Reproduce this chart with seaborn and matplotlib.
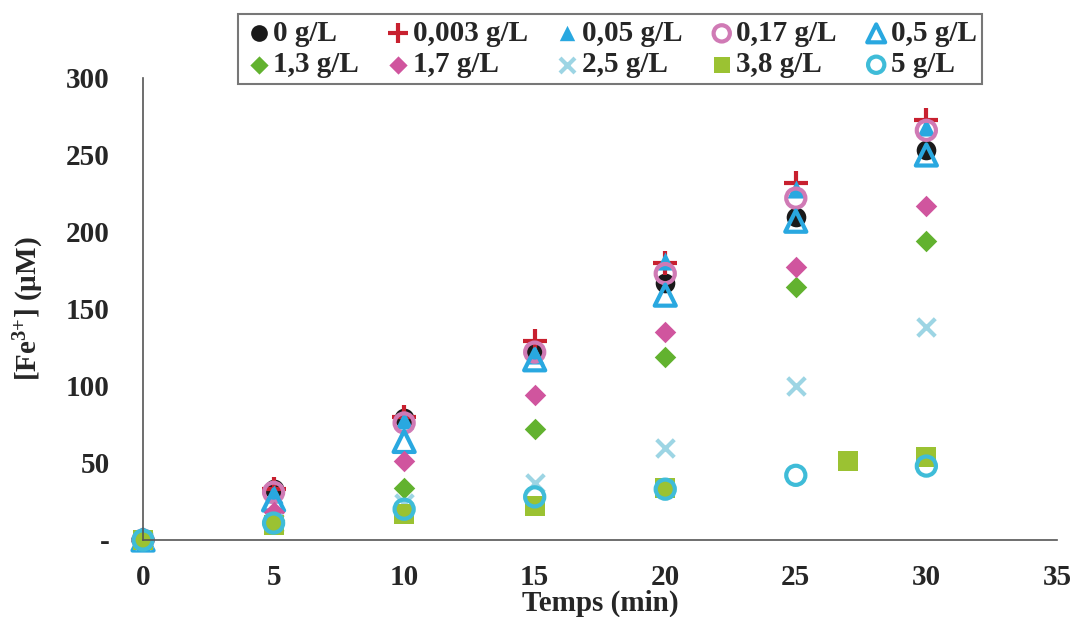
import numpy as np
import pandas as pd
import matplotlib
matplotlib.use('Agg')
import matplotlib.pyplot as plt
import seaborn as sns

# temps (min)
temps = [0, 5, 10, 15, 20, 25, 30]
temps_38 = [0, 5, 10, 15, 20, 27, 30]

# [Fe3+] (uM) pour chaque concentration
fe_0 = [0, 33, 79, 123, 167, 210, 253]
fe_0003 = [0, 33, 80, 129, 180, 232, 273]
fe_005 = [0, 30, 78, 120, 181, 228, 268]
fe_017 = [0, 31, 76, 122, 173, 222, 266]
fe_05 = [0, 26, 64, 117, 159, 207, 250]
fe_13 = [0, 13, 34, 72, 119, 164, 194]
fe_17 = [0, 18, 51, 94, 135, 177, 217]
fe_25 = [0, 11, 24, 37, 60, 100, 138]
fe_38 = [0, 10, 17, 22, 34, 51, 54]
fe_5 = [0, 11, 20, 28, 33, 42, 48]

labels = ['0 g/L', '0,003 g/L', '0,05 g/L', '0,17 g/L', '0,5 g/L',
          '1,3 g/L', '1,7 g/L', '2,5 g/L', '3,8 g/L', '5 g/L']
y_ticklabels = ['-', '50', '100', '150', '200', '250', '300']

series = [
    (temps, fe_0, 'o', '#1a1a1a', True, 200),
    (temps, fe_0003, '+', '#c8202f', True, 280),
    (temps, fe_005, '^', '#29a8e0', True, 170),
    (temps, fe_017, 'o', '#d07ab5', False, 190),
    (temps, fe_05, '^', '#29a8e0', False, 230),
    (temps, fe_13, 'D', '#62b22f', True, 120),
    (temps, fe_17, 'D', '#d0559e', True, 120),
    (temps, fe_25, 'x', '#9dd5e4', True, 160),
    (temps_38, fe_38, 's', '#9bc232', True, 190),
    (temps, fe_5, 'o', '#3fbcd8', False, 190),
]

sns.set_style('white')
plt.rcParams['font.family'] = ['Liberation Serif', 'DejaVu Serif']
plt.rcParams['font.weight'] = 'bold'
plt.rcParams['mathtext.fontset'] = 'custom'
plt.rcParams['mathtext.rm'] = 'Liberation Serif:bold'
plt.rcParams['mathtext.it'] = 'Liberation Serif:bold'
plt.rcParams['mathtext.bf'] = 'Liberation Serif:bold'

fig = plt.figure(figsize=(10.73, 6.17), dpi=100)
ax = fig.add_axes([0.1333, 0.1248, 0.8517, 0.7488])

for (x, y, m, c, filled, s), lab in zip(series, labels):
    df = pd.DataFrame({'t': x, 'fe': y})
    if m in ('+', 'x'):
        sns.scatterplot(data=df, x='t', y='fe', marker=m, color=c, s=s,
                        linewidth=3, ax=ax, label=lab, clip_on=False)
    elif filled:
        sns.scatterplot(data=df, x='t', y='fe', marker=m, color=c, s=s,
                        linewidth=0, ax=ax, label=lab, clip_on=False)
    else:
        sns.scatterplot(data=df, x='t', y='fe', marker=m, s=s,
                        facecolor='none', edgecolor=c, linewidth=3,
                        ax=ax, label=lab, clip_on=False)

ax.set_xlim(0, 35)
ax.set_ylim(0, 300)
ax.set_xticks(np.arange(0, 36, 5))
ax.set_yticks(np.arange(0, 301, 50))
ax.set_yticklabels(y_ticklabels)
ax.tick_params(axis='both', direction='inout', length=16, width=1.2,
               color='#555555', labelsize=21)
ax.tick_params(axis='y', pad=16)
ax.tick_params(axis='x', pad=9)
for lab in ax.get_xticklabels() + ax.get_yticklabels():
    lab.set_fontweight('bold')

for side in ['top', 'right']:
    ax.spines[side].set_visible(False)
for side in ['left', 'bottom']:
    ax.spines[side].set_color('#555555')
    ax.spines[side].set_linewidth(1.2)

ax.set_xlabel('Temps (min)', fontsize=21, fontweight='bold', labelpad=-1)
ax.set_ylabel('[Fe$^{3{+}}$] (µM)', fontsize=21, fontweight='bold', labelpad=14)

# legende remplie ligne par ligne
handles, labs = ax.get_legend_handles_labels()
order = [0, 5, 1, 6, 2, 7, 3, 8, 4, 9]
leg = ax.legend([handles[i] for i in order], [labs[i] for i in order],
                ncol=5, loc='upper left', bbox_to_anchor=(0.222, 0.977),
                bbox_transform=fig.transFigure, borderaxespad=0,
                frameon=True, fancybox=False, prop={'size': 21, 'weight': 'bold'},
                handletextpad=0.0, columnspacing=0.85, borderpad=0.2,
                labelspacing=0.15, handlelength=1.0, markerscale=0.85)
leg.get_frame().set_edgecolor('#555555')
leg.get_frame().set_linewidth(1.5)

fig.savefig('out.png', dpi=100)
